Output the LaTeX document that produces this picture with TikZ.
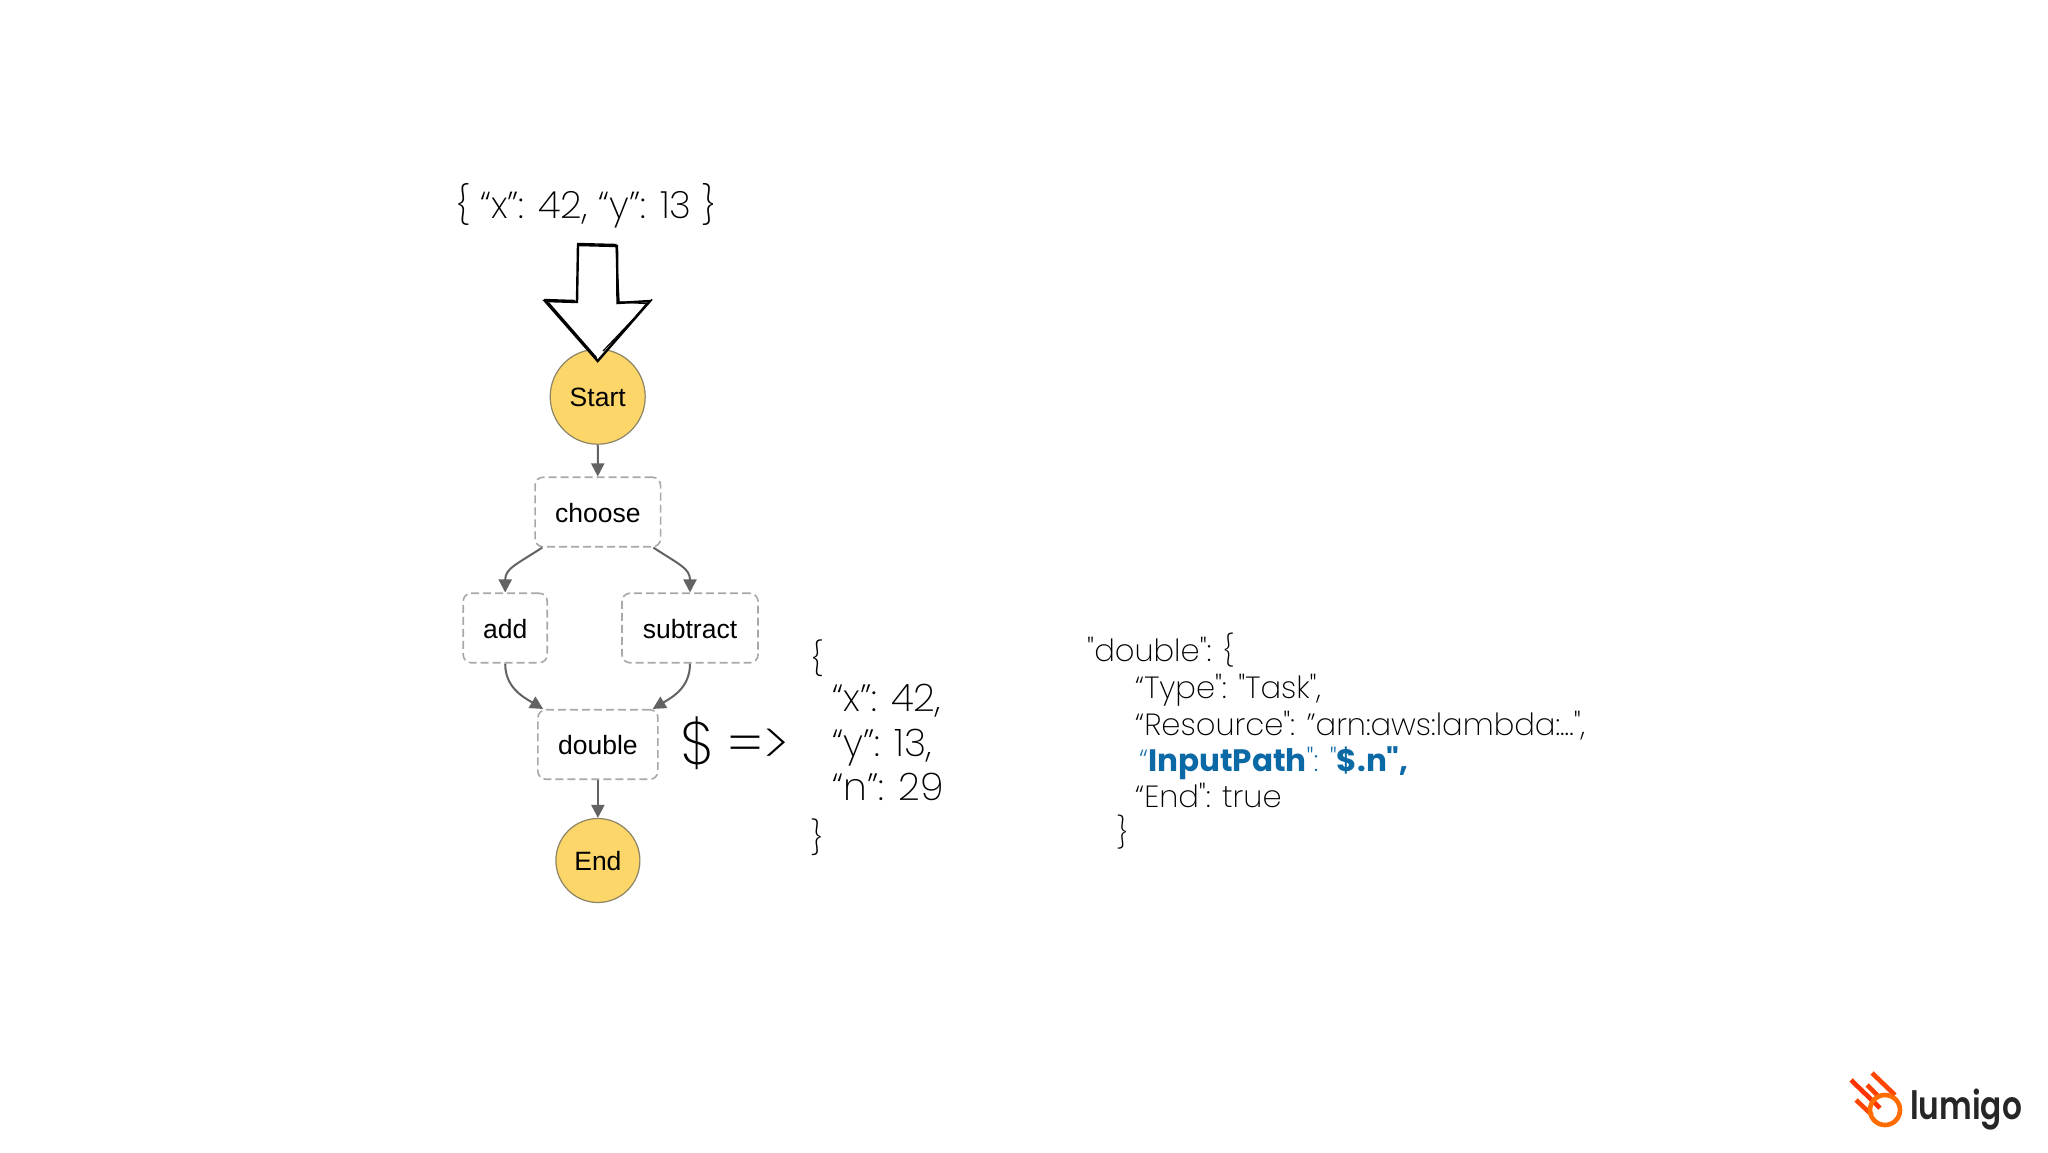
\documentclass[tikz,border=0pt]{standalone}
\usepackage{fontspec}
\usetikzlibrary{arrows.meta,calc}
\setmainfont{Liberation Sans}
\newfontfamily\slidefont{Poppins}[UprightFont=* ExtraLight,BoldFont=* Bold]
\newfontfamily\logofont{Poppins}[UprightFont=* SemiBold]
\definecolor{stateyellow}{HTML}{FCD669}
\definecolor{stateedge}{HTML}{8C8464}
\definecolor{dashgray}{HTML}{A8A8A8}
\definecolor{linkgray}{HTML}{636363}
\definecolor{pathblue}{HTML}{0B6AA6}
\tikzset{
  endpoint/.style={circle,draw=stateedge,fill=stateyellow,line width=1.2pt,inner sep=0pt,font=\fontsize{26.5}{30}\selectfont,text=black,text height=19pt,text depth=0pt},
  taskbox/.style={draw=dashgray,line width=1.6pt,dash pattern=on 8pt off 4pt,rounded corners=8pt,inner sep=0pt,minimum height=69.5pt,font=\fontsize{26.5}{30}\selectfont,text=black,text height=20pt,text depth=0pt},
  link/.style={draw=linkgray,line width=2pt,-{Triangle[length=13pt,width=13pt]}},
  slide/.style={anchor=base west,inner sep=0pt,font=\slidefont\fontsize{#1}{#1}\selectfont,text=black},
  slide/.default=38,
  sketch/.style={draw=black,line join=miter,miter limit=10},
}
\begin{document}
\begin{tikzpicture}[x=1pt,y=-1pt]
\useasboundingbox (0,0) rectangle (2048,1152);
\fill[white] (0,0) rectangle (2048,1152);

% state machine
\node[endpoint,minimum size=95pt] (start) at (597.7,396.7) {Start};
\node[taskbox,minimum width=125.5pt] (choose) at (597.8,512) {choose};
\node[taskbox,minimum width=84pt] (add) at (505.2,628) {add};
\node[taskbox,minimum width=136pt] (subtract) at (690,628) {subtract};
\node[taskbox,minimum width=120pt] (double) at (597.9,744.5) {double};
\node[endpoint,minimum size=84pt] (end) at (597.9,860.5) {End};

\draw[link] (start) -- (choose);
\draw[link] ([xshift=8pt]choose.south west) .. controls +(-26,17) and +(0,-24) .. (add.north);
\draw[link] ([xshift=-8pt]choose.south east) .. controls +(26,17) and +(0,-24) .. (subtract.north);
\draw[link] (add.south) .. controls +(0,24) and +(-20,-12) .. ([xshift=6pt]double.north west);
\draw[link] (subtract.south) .. controls +(0,24) and +(20,-12) .. ([xshift=-6pt]double.north east);
\draw[link] (double) -- (end);

% sketched input arrow
\path[fill=white] (578,245) -- (617,246) -- (617,303) -- (650,301) -- (597.7,361) -- (545,301) -- (577,302) -- cycle;
\draw[sketch,line width=2.4pt] (578,245) -- (617,246) -- (617.5,303) -- (650,301) -- (597.7,361) -- (545,301) -- (577,302) -- cycle;
\draw[sketch,line width=1.4pt] (577,243.5) -- (616,244.5) -- (619,302) -- (647,303.5) -- (600,358.5);
\draw[sketch,line width=1.2pt] (652,299.5) -- (603,351);
\draw[sketch,line width=2.6pt] (548,303) -- (596,358);
\draw[sketch,line width=1.4pt] (544,299.5) -- (575,300.5);

% texts
\node[slide=37.6] (input) at (456,218) {\{ “x”: 42, “y”: 13 \}};
\node[slide=60] (dollar) at (680,764) {\$};
\node[slide=58] (maps) at (727,764.7) {=>};
\node[slide=33] (b1) at (811,670.5) {\{};
\node[slide] (b2) at (832,711.7) {“x”: 42,};
\node[slide] (b3) at (832,756.7) {“y”: 13,};
\node[slide] (b4) at (832,800.7) {“n”: 29};
\node[slide=33] (b5) at (811,849.5) {\}};

\node[slide=30.6] (j1) at (1087,661.7) {"double": \{};
\node[slide=30.6] (j2) at (1135,698) {“Type": "Task",};
\node[slide=30.6] (j3) at (1135,735) {“Resource": ”arn:aws:lambda:...",};
\node[slide=30.6,text=pathblue] (j4) at (1139,771) {“{\fontsize{31}{31}\selectfont\textbf{InputPath}}": "{\fontsize{31}{31}\selectfont\textbf{\$.n"}\textbf{,}}};
\node[slide=30.6] (j5) at (1135,807) {“End": true};
\node[slide=30.6] (j6) at (1117,843) {\}};

% logo
\begin{scope}[line width=4.6pt,line cap=butt]
\draw[color=orange!40!red] (1851,1080) -- (1880,1108);
\draw[color=orange!55!red] (1872,1073) -- (1895,1095);
\draw[color=orange!50!red] (1867,1085) -- (1878,1096);
\draw[color=orange!55!red] (1856,1100) -- (1872,1115);
\end{scope}
\node[circle,draw=orange!85!red,line width=4.6pt,minimum size=30pt,inner sep=0pt] (ring) at (1885,1110) {};
\node[anchor=base west,inner sep=0pt,text=black!85,font=\logofont\fontsize{39}{39}\selectfont] (logo) at (1910,1119) {\scalebox{0.8}[1]{lumigo}};
\end{tikzpicture}
\end{document}
